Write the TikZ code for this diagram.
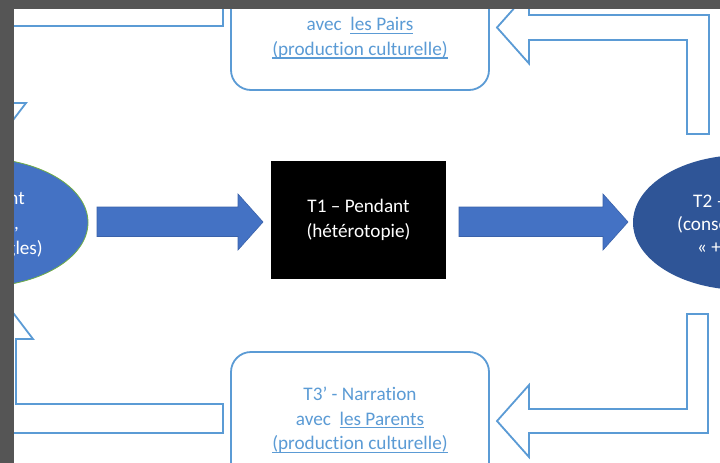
\documentclass[tikz,border=0pt]{standalone}
\usepackage{fontspec}
\setmainfont{Carlito}[Ligatures=NoCommon]
\usetikzlibrary{shapes.geometric}
\definecolor{framegray}{HTML}{555555}
\definecolor{ltblue}{HTML}{5B9BD5}
\definecolor{midblue}{HTML}{4472C4}
\definecolor{darkblue}{HTML}{2F5597}
\definecolor{arrowedge}{HTML}{3A62AA}
\definecolor{ellgreen}{HTML}{70AD47}
\newcommand\ulx[1]{\setbox0\hbox{#1}\rlap{\rule[-3.2pt]{\wd0}{1.2pt}}\box0}
\begin{document}
\begin{tikzpicture}[x=1pt,y=-1pt,
  txt/.style={font=\fontsize{19.2}{24.5}\selectfont},
  outlinebox/.style={draw=ltblue,line width=1.8pt,rounded corners=20pt,fill=white,minimum width=258pt,minimum height=130pt,inner sep=0pt},
  boxtext/.style={txt,text=ltblue,align=center,inner sep=0pt},
  bentarrow/.style={draw=ltblue,line width=1.8pt,fill=white,line join=miter},
  blockarrow/.style={fill=midblue,draw=arrowedge,line width=0.6pt},
  frag/.style={txt,text=white,inner sep=0pt},
]
\useasboundingbox (0,0) rectangle (720,463);
\fill[white] (0,0) rectangle (720,463);
\begin{scope}
\clip (14,9) rectangle (720,463);
% bent outline arrows
\draw[bentarrow] (223,-3) -- (-20,-3) -- (-20,103) -- (-37,103) -- (-5.5,144.4) -- (26,103) -- (9,103) -- (9,26) -- (223,26) -- cycle;
\draw[bentarrow] (223,433) -- (-13,433) -- (-13,339) -- (-30,339) -- (1.5,297.6) -- (33,339) -- (16,339) -- (16,404) -- (223,404) -- cycle;
\draw[bentarrow] (497,27.5) -- (529,-8.5) -- (529,15) -- (709,15) -- (709,134) -- (687,134) -- (687,40) -- (529,40) -- (529,63.5) -- cycle;
\draw[bentarrow] (497,421) -- (529,385) -- (529,409) -- (687,409) -- (687,314) -- (708,314) -- (708,433) -- (529,433) -- (529,457) -- cycle;
% rounded boxes
\node[outlinebox] (topbox) at (360,25) {};
\node[boxtext] (toptext) at (360,38) {avec\ \ \ulx{les Pairs}\\\ulx{(production culturelle)}};
\node[outlinebox] (botbox) at (360,417) {};
\node[boxtext] (bottext) at (360,420) {T3’ - Narration\\avec\ \ \ulx{les Parents}\\\ulx{(production culturelle)}};
% ellipses
\node[ellipse,fill=midblue,draw=ellgreen,line width=0.8pt,minimum width=220pt,minimum height=129pt,inner sep=0pt] (t0) at (-22,222.5) {};
\node[ellipse,fill=darkblue,minimum width=220pt,minimum height=135pt,inner sep=0pt] (t2) at (743,222.5) {};
\node[frag,anchor=base east] (t0a) at (25,204) {nt};
\node[frag,anchor=base east] (t0b) at (19,229) {,};
\node[frag,anchor=base east] (t0c) at (43,254) {gles)};
\node[frag,anchor=base west] (t2a) at (693,207) {T2 –};
\node[frag,anchor=base west] (t2b) at (677,230) {(conse};
\node[frag,anchor=base west] (t2c) at (697,253) {« +};
% black box
\node[fill=black,minimum width=175pt,minimum height=118pt,txt,text=white,align=center] (t1) at (358.5,220) {T1 – Pendant\\(hétérotopie)};
% block arrows
\draw[blockarrow] (97,207) -- (238,207) -- (238,194) -- (263,222) -- (238,250) -- (238,236.5) -- (97,236.5) -- cycle;
\draw[blockarrow] (459,207) -- (603,207) -- (603,194) -- (628,222) -- (603,250) -- (603,236.5) -- (459,236.5) -- cycle;
\end{scope}
\fill[framegray] (0,0) rectangle (720,9);
\fill[framegray] (0,0) rectangle (14,463);
\end{tikzpicture}
\end{document}
